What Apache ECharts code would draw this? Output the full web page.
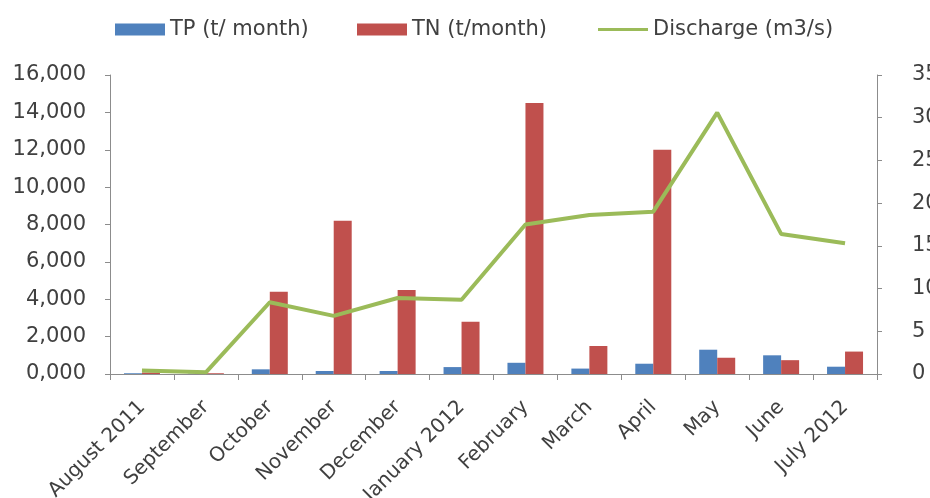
<!DOCTYPE html>
<html>
<head>
<meta charset="utf-8">
<script src="https://cdn.jsdelivr.net/npm/echarts@6/dist/echarts.min.js"></script>
<style>
  html, body { margin: 0; padding: 0; background: #ffffff; }
  #chart { width: 930px; height: 498px; }
</style>
</head>
<body>
<div id="chart"></div>
<script>
// Monthly nutrient loads and river discharge, Aug 2011 - Jul 2012
const months = ['August 2011', 'September', 'October', 'November', 'December', 'January 2012',
                'February', 'March', 'April', 'May', 'June', 'July 2012'];
const tpLoad = [40, 20, 250, 160, 160, 370, 600, 290, 550, 1300, 1000, 390];          // t/month
const tnLoad = [80, 40, 4400, 8200, 4500, 2800, 14500, 1500, 12000, 870, 740, 1200];  // t/month
const discharge = [0.4, 0.2, 8.4, 6.8, 8.9, 8.7, 17.5, 18.6, 19.0, 30.6, 16.4, 15.3]; // m3/s
const loadTicks = ['0,000', '2,000', '4,000', '6,000', '8,000', '10,000', '12,000', '14,000', '16,000'];
const flowTicks = ['0', '5', '10', '15', '20', '25', '30', '35'];

const FONT = 'DejaVu Sans';
const TEXT = '#404040';
const AXIS = '#8c8c8c';

// Legend key for the discharge line: a 3px stroke centred in a 50x12 box
// (the two zero-area strips only fix the box size).
const LINE_KEY = 'path://M0,0L50,0L50,0Z M0,12L50,12L50,12Z M0,4.5L50,4.5L50,7.5L0,7.5Z';

// One legend block per entry so each key sits at its own x position.
function legendEntry(name, icon, left) {
  return {
    left: left,
    top: 19,
    padding: 0,
    itemWidth: 50,
    itemHeight: 12,
    textStyle: { fontFamily: FONT, fontSize: 21, color: TEXT },
    data: [{ name: name, icon: icon }]
  };
}

const chart = echarts.init(document.getElementById('chart'), null, { renderer: 'canvas' });

chart.setOption({
  backgroundColor: '#ffffff',
  animation: false,
  textStyle: { fontFamily: FONT, color: TEXT },
  legend: [
    legendEntry('TP (t/ month)', 'rect', 115),
    legendEntry('TN (t/month)', 'rect', 357),
    legendEntry('Discharge (m3/s)', LINE_KEY, 598)
  ],
  grid: { left: 110, right: 53, top: 75, bottom: 124, containLabel: false, outerBoundsMode: 'none' },
  xAxis: {
    type: 'category',
    data: months,
    boundaryGap: true,
    axisLine: { show: true, lineStyle: { color: AXIS, width: 1 } },
    axisTick: { show: true, alignWithLabel: false, length: 6, lineStyle: { color: AXIS } },
    axisLabel: {
      interval: 0,
      rotate: 45,
      margin: 30,
      fontFamily: FONT,
      fontSize: 20,
      color: TEXT
    }
  },
  yAxis: [
    {
      type: 'value',
      min: 0,
      max: 16000,
      interval: 2000,
      position: 'left',
      splitLine: { show: false },
      axisLine: { show: true, lineStyle: { color: AXIS } },
      axisTick: { show: true, length: 5, lineStyle: { color: AXIS } },
      axisLabel: {
        margin: 24,
        fontFamily: FONT,
        fontSize: 21,
        color: TEXT,
        formatter: v => loadTicks[Math.round(v / 2000)]
      }
    },
    {
      type: 'value',
      min: 0,
      max: 35,
      interval: 5,
      position: 'right',
      splitLine: { show: false },
      axisLine: { show: true, lineStyle: { color: AXIS } },
      axisTick: { show: true, length: 5, lineStyle: { color: AXIS } },
      axisLabel: {
        margin: 35,
        fontFamily: FONT,
        fontSize: 21,
        color: TEXT,
        formatter: v => flowTicks[Math.round(v / 5)]
      }
    }
  ],
  series: [
    {
      name: 'TP (t/ month)',
      type: 'bar',
      yAxisIndex: 0,
      data: tpLoad,
      barWidth: 18,
      barGap: '0%',
      itemStyle: { color: '#4f81bd' }
    },
    {
      name: 'TN (t/month)',
      type: 'bar',
      yAxisIndex: 0,
      data: tnLoad,
      barWidth: 18,
      barGap: '0%',
      itemStyle: { color: '#c0504d' }
    },
    {
      name: 'Discharge (m3/s)',
      type: 'line',
      yAxisIndex: 1,
      data: discharge,
      symbol: 'none',
      lineStyle: { color: '#9bbb59', width: 4 },
      itemStyle: { color: '#9bbb59' },
      z: 5
    }
  ]
});
</script>
</body>
</html>
